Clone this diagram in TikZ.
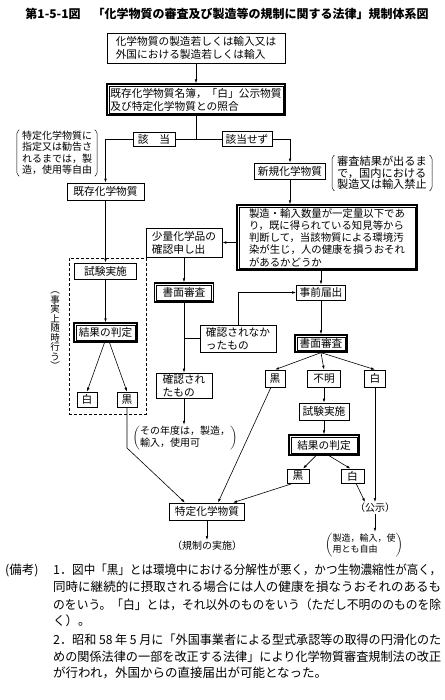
\documentclass[tikz,border=0pt]{standalone}
\usepackage{fontspec}
\setmainfont{Noto Sans CJK JP}
\usepackage{graphicx}
\usetikzlibrary{arrows.meta}
% bracket pair round a note
\newcommand{\kakko}[1]{%
  \draw[brk] ([xshift=2.5pt]#1.north west) -- ([yshift=-2pt]#1.north west)
    -- ([yshift=2pt]#1.south west) -- ([xshift=2.5pt]#1.south west);
  \draw[brk] ([xshift=-2.5pt]#1.north east) -- ([yshift=-2pt]#1.north east)
    -- ([yshift=2pt]#1.south east) -- ([xshift=-2.5pt]#1.south east);}
\newcommand{\fitw}[2]{\resizebox{#1}{\height}{#2}}

\begin{document}
\begin{tikzpicture}[
  x=1pt, y=-1pt,
  >={Latex[length=4pt,width=2.6pt]},
  ttl/.style={inner sep=0pt,font=\fontsize{12}{14}\selectfont\bfseries},
  box/.style={draw,line width=0.7pt,inner sep=0pt,align=left,
              font=\fontsize{10.7}{13}\selectfont},
  dbox/.style={box,line width=1.3pt},
  inframe/.style={line width=0.5pt},
  note/.style={inner sep=1pt,align=left,font=\fontsize{10}{11.5}\selectfont},
  brk/.style={line width=0.5pt,rounded corners=1.8pt},
  grp/.style={draw,dash pattern=on 3pt off 2pt,line width=0.6pt,inner sep=0pt},
  rem/.style={anchor=west,inner sep=0pt,font=\fontsize{12.5}{14}\selectfont},
  arr/.style={->,line width=0.6pt},
  ln/.style={line width=0.6pt}
]
\useasboundingbox (0,0) rectangle (444,700);

\node[ttl] (title) at (227,14) {第1-5-1図\quad「化学物質の審査及び製造等の規制に関する法律」規制体系図};

% main column
\node[box,minimum width=178pt,minimum height=30pt] (src) at (196,48)
  {化学物質の製造若しくは輸入又は\\外国における製造若しくは輸入};
\node[dbox,minimum width=178pt,minimum height=31pt] (check) at (196,99.5)
  {既存化学物質名簿，「白」公示物質\\及び特定化学物質との照合};
\node[box,minimum width=42pt,minimum height=14pt] (gai) at (154,139) {該　当};
\node[box,minimum width=50pt,minimum height=15pt] (gaisezu) at (247,139) {該当せず};
\node[note,inner xsep=5pt] (lnote) at (57,153)
  {特定化学物質に\\指定又は勧告さ\\れるまでは，製\\造，使用等自由};
\node[box,minimum width=77pt,minimum height=17pt] (kizon) at (105.5,191.5) {既存化学物質};
\node[box,minimum width=71pt,minimum height=16pt] (shinki) at (290,171) {新規化学物質};
\node[note,inner xsep=5pt,font=\fontsize{11.2}{11.5}\selectfont] (rnote) at (382,173)
  {審査結果が出るま\\で，国内における\\製造又は輸入禁止};

% existing substances
\node[grp,minimum width=77pt,minimum height=156pt] (grp1) at (107.5,336) {};
\node[box,minimum width=62pt,minimum height=16pt] (shiken1) at (105.5,271) {試験実施};
\node[dbox,minimum width=63pt,minimum height=19pt] (kekka1) at (105.5,332.5) {結果の判定};
\node[box,minimum width=20pt,minimum height=15pt] (shiro1) at (87,399.5) {白};
\node[box,minimum width=20pt,minimum height=15pt] (kuro1) at (127,399.5) {黒};
\node[inner sep=0pt,align=center,font=\fontsize{9.5}{9.5}\selectfont] (zuiji) at (55,331)
  {︵\\事\\実\\上\\随\\時\\行\\う\\︶};
\coordinate (kuroturn) at (127,448);

% new substances
\node[dbox,minimum width=180pt,minimum height=65pt,font=\fontsize{10.4}{12.2}\selectfont] (big) at (327,237.5)
  {製造・輸入数量が一定量以下であ\\り，既に得られている知見等から\\判断して，当該物質による環境汚\\染が生じ，人の健康を損うおそれ\\があるかどうか};
\node[box,minimum width=76pt,minimum height=29pt] (shoryo) at (184,242.5) {少量化学品の\\確認申し出};
\node[dbox,minimum width=59pt,minimum height=19pt] (shomen1) at (184,292.5) {書面審査};
\node[box,minimum width=76pt,minimum height=27pt] (nakatta) at (238,338.5) {確認されなか\\ったもの};
\node[box,minimum width=56pt,minimum height=25pt] (kakunin) at (184,385.5) {確認され\\たもの};
\node[note] (nendo) at (185,438)
  {$\left(\begin{tabular}{@{}l@{}}その年度は，製造，\\輸入，使用可\end{tabular}\right)$};
\node[box,minimum width=49pt,minimum height=15pt] (jizen) at (321,292.5) {事前届出};
\node[dbox,minimum width=52pt,minimum height=17pt] (shomen2) at (321,343.5) {書面審査};
\node[box,minimum width=20pt,minimum height=17pt] (kuro2) at (275,378.5) {黒};
\node[box,minimum width=33pt,minimum height=17pt] (fumei) at (324,378.5) {不明};
\node[box,minimum width=21pt,minimum height=17pt] (shiro2) at (375,378.5) {白};
\node[box,minimum width=50pt,minimum height=17pt] (shiken2) at (324,411.5) {試験実施};
\node[dbox,minimum width=70pt,minimum height=20pt] (kekka2) at (324,445) {結果の判定};
\node[box,minimum width=22pt,minimum height=14pt] (kuro3) at (298,476) {黒};
\node[box,minimum width=23pt,minimum height=14pt] (shiro3) at (352.5,476) {白};

% results
\node[box,minimum width=75pt,minimum height=17pt] (tokutei) at (207,511.5) {特定化学物質};
\node[note] (kisei) at (207,546) {（規制の実施）};
\node[note] (koji) at (375,508) {（公示）};
\node[note,font=\fontsize{9}{11}\selectfont] (jiyu) at (364,545)
  {$\left(\begin{tabular}{@{}l@{}}製造，輸入，使\\用とも自由\end{tabular}\right)$};

% inner frame of the double boxes
\foreach \n in {check,kekka1,big,shomen1,shomen2,kekka2}
  \draw[inframe] ([xshift=2.5pt,yshift=-2.5pt]\n.north west) rectangle ([xshift=-2.5pt,yshift=2.5pt]\n.south east);

\kakko{lnote}
\kakko{rnote}

% connectors
\draw[arr] (src) -- (check);
\draw[ln] (check) -- (check |- gai);
\draw[ln] (gai) -- (gaisezu);
\draw[arr] (gai) -| (kizon);
\draw[arr] (gaisezu) -| (shinki);
\draw[arr] (kizon) -- (shiken1);
\draw[arr] (shiken1) -- (kekka1);
\draw[arr] ([xshift=-1pt]kekka1.south) -- (shiro1.north);
\draw[arr] ([xshift=4pt]kekka1.south) -- (kuro1.north);
\draw[arr] (kuro1) -- (kuroturn) -- ([xshift=-22pt]tokutei.north);
\draw[arr] (shinki) -- (shinki |- big.north);
\draw[arr] (big.west |- shoryo) -- (shoryo);
\draw[arr] (shoryo) -- (shomen1);
\draw[arr] (shomen1) -- (kakunin);
\draw[ln] (shomen1 |- nakatta) -- (nakatta);
\draw[arr] (nakatta) |- (jizen);
\draw[arr] (kakunin) -- (kakunin |- nendo.north);
\draw[arr] (big.south -| jizen) -- (jizen);
\draw[arr] (jizen) -- (shomen2);
\foreach \n in {kuro2,fumei,shiro2}
  \draw[arr] (shomen2.south) -- (\n.north);
\draw[arr] (fumei) -- (shiken2);
\draw[arr] (shiken2) -- (kekka2);
\draw[arr] ([xshift=-8pt]kekka2.south) -- ([xshift=5pt]kuro3.north);
\draw[arr] ([xshift=5pt]kekka2.south) -- ([xshift=-2pt]shiro3.north);
\draw[arr] ([xshift=-5pt]kuro3.south) -- ([xshift=26pt]tokutei.north);
\draw[arr] (kuro2) -- ([xshift=11pt]tokutei.north);
\draw[arr] (shiro2) -- (koji);
\draw[arr] (shiro3) -- ([xshift=-10pt]koji.north);
\draw[arr] (koji) -- (koji |- jiyu.north);
\draw[arr] (tokutei) -- (kisei);

% remarks
\node[rem] (bikou) at (5,570) {(備考)};
\node[rem] (no1) at (53,570) {1．};
\node[rem] (r1) at (72,570) {\fitw{369pt}{図中「黒」とは環境中における分解性が悪く，かつ生物濃縮性が高く，}};
\node[rem] (r2) at (53,587) {\fitw{388pt}{同時に継続的に摂取される場合には人の健康を損なうおそれのあるも}};
\node[rem] (r3) at (53,605) {\fitw{388pt}{のをいう。「白」とは，それ以外のものをいう（ただし不明ののものを除}};
\node[rem] (r4) at (53,621) {く）。};
\node[rem] (no2) at (53,640) {2．};
\node[rem] (r5) at (72,640) {\fitw{369pt}{昭和 58 年 5 月に「外国事業者による型式承認等の取得の円滑化のた}};
\node[rem] (r6) at (53,657) {\fitw{388pt}{めの関係法律の一部を改正する法律」により化学物質審査規制法の改正}};
\node[rem] (r7) at (53,673) {が行われ，外国からの直接届出が可能となった。};
\end{tikzpicture}
\end{document}
